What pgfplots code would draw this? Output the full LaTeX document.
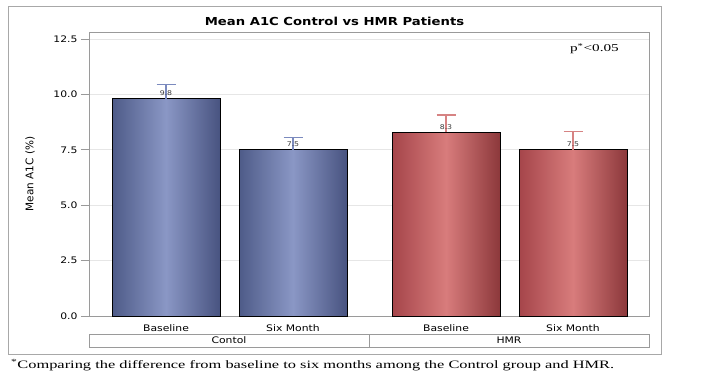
\documentclass[border=0pt]{standalone}
\usepackage{fontspec}
\setmainfont{DejaVu Sans}[FakeStretch=1.2]
\newfontfamily\serifc{Liberation Serif}[FakeStretch=1.45]
\newfontfamily\plainsans{DejaVu Sans}
\usepackage{pgfplots}
\pgfplotsset{compat=1.18}
\definecolor{bluedark}{HTML}{4E5B88}
\definecolor{bluedarkr}{HTML}{485380}
\definecolor{bluelight}{HTML}{8A97C5}
\definecolor{reddark}{HTML}{A5454A}
\definecolor{reddarkr}{HTML}{8C383B}
\definecolor{redlight}{HTML}{D87C7C}
\definecolor{bluerr}{HTML}{7B8ABE}
\definecolor{rederr}{HTML}{D68383}
\definecolor{framegray}{HTML}{A8A8A8}
\definecolor{axgray}{HTML}{9A9A9A}
\definecolor{gridgray}{HTML}{E6E6E6}
\definecolor{lblgray}{HTML}{3A3A3A}
\begin{document}
\begin{tikzpicture}
\draw[framegray, line width=1pt] (8pt,21pt) rectangle (661pt,368pt);
\begin{axis}[
  at={(89pt,59pt)}, anchor=south west,
  scale only axis, width=560pt, height=284pt,
  xmin=0, xmax=560, ymin=0, ymax=12.82,
  ytick={0,2.5,5,7.5,10,12.5},
  ytick pos=left,
  yticklabel style={/pgf/number format/fixed, /pgf/number format/fixed zerofill, /pgf/number format/precision=1},
  /pgf/number format/assume math mode=true,
  ticklabel style={font=\fontsize{9}{10}\selectfont, text=black},
  xtick={77,204,357,484},
  xticklabels={Baseline, Six Month, Baseline, Six Month},
  x tick label style={yshift=3pt},
  major x tick style={draw=none},
  tick align=outside,
  major tick length=8pt,
  tick style={axgray, line width=0.8pt},
  ymajorgrids, grid style={gridgray, line width=0.8pt},
  axis line style={axgray, line width=0.9pt},
  ylabel={\plainsans\fontsize{10.5}{12}\selectfont Mean A1C (\%)},
  ylabel style={at={(axis description cs:0,0.5)}, anchor=center, yshift=59pt},
  ybar, bar width=108, bar shift=0pt,
  nodes near coords={\pgfmathprintnumber[fixed,fixed zerofill,precision=1]{\pgfplotspointmeta}},
  every node near coord/.append style={font=\fontsize{6.5}{7}\selectfont, text=lblgray, anchor=south, inner sep=0pt, yshift=2.5pt},
  clip=false,
]
\addplot[draw=black, line width=1pt, left color=bluedark, right color=bluedarkr, middle color=bluelight,
  error bars/.cd, y dir=plus, y explicit,
  error bar style={bluerr, line width=1.3pt},
  error mark options={bluerr, line width=1.3pt, mark size=9.5pt, rotate=90}]
  coordinates {(77,9.8) +- (0,0.66)};
\addplot[draw=black, line width=1pt, left color=bluedark, right color=bluedarkr, middle color=bluelight,
  error bars/.cd, y dir=plus, y explicit,
  error bar style={bluerr, line width=1.3pt},
  error mark options={bluerr, line width=1.3pt, mark size=9.5pt, rotate=90}]
  coordinates {(204,7.5) +- (0,0.55)};
\addplot[draw=black, line width=1pt, left color=reddark, right color=reddarkr, middle color=redlight,
  error bars/.cd, y dir=plus, y explicit,
  error bar style={rederr, line width=1.3pt},
  error mark options={rederr, line width=1.3pt, mark size=9.5pt, rotate=90}]
  coordinates {(357,8.3) +- (0,0.77)};
\addplot[draw=black, line width=1pt, left color=reddark, right color=reddarkr, middle color=redlight,
  error bars/.cd, y dir=plus, y explicit,
  error bar style={rederr, line width=1.3pt},
  error mark options={rederr, line width=1.3pt, mark size=9.5pt, rotate=90}]
  coordinates {(484,7.5) +- (0,0.82)};
\end{axis}
% category boxes
\draw[axgray, line width=0.9pt] (89pt,28pt) rectangle (369pt,41pt);
\draw[axgray, line width=0.9pt] (369pt,28pt) rectangle (649pt,41pt);
\node[font=\fontsize{9}{10}\selectfont, inner sep=0pt] at (229pt,34.5pt) {Contol};
\node[font=\fontsize{9}{10}\selectfont, inner sep=0pt] at (509pt,34.5pt) {HMR};
% title
\node[font=\bfseries\fontsize{11}{13}\selectfont, inner sep=0pt] at (334.5pt,354pt) {Mean A1C Control vs HMR Patients};
% p-value
\node[font=\serifc\fontsize{10.5}{12}\selectfont, anchor=base east, inner sep=0pt] at (619pt,323pt) {p\textsuperscript{*}<0.05};
% caption
\node[font=\serifc\fontsize{11.3}{13}\selectfont, anchor=base west, inner sep=0pt] at (11pt,7pt) {\textsuperscript{*}Comparing the difference from baseline to six months among the Control group and HMR.};
\pgfresetboundingbox
\path (0pt,0pt) rectangle (706pt,375pt);
\end{tikzpicture}
\end{document}
